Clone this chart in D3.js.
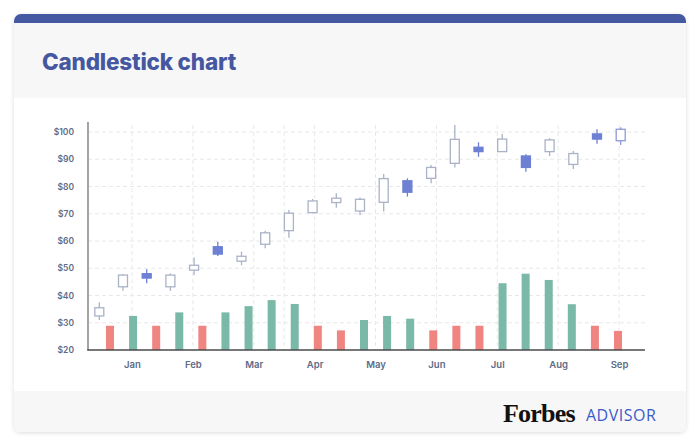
<!DOCTYPE html>
<html>
<head>
<meta charset="utf-8">
<script src="https://cdn.jsdelivr.net/npm/d3@7"></script>
<style>
  html, body { margin: 0; padding: 0; background: #fff; }
  svg { display: block; }
</style>
</head>
<body>
<svg id="chart" width="700" height="447"></svg>
<script>
// candle data, one entry per candle
var opens  = [32.5, 43.2, 48.0, 43.2, 49.3, 57.9, 52.6, 58.8, 63.8, 70.4, 74.1, 71.0,
              74.2, 82.1, 83.0, 88.5, 94.4, 92.8, 91.2, 92.8, 88.1, 99.3, 96.8];
var closes = [35.5, 47.5, 46.4, 47.5, 51.1, 55.2, 54.4, 63.0, 70.2, 74.7, 75.7, 75.3,
              82.9, 77.9, 87.0, 97.3, 92.8, 97.4, 87.0, 97.1, 92.1, 97.4, 101.0];
var highs  = [37.5, 47.8, 49.6, 48.1, 53.9, 59.7, 56.1, 63.8, 71.4, 75.4, 77.5, 76.0,
              84.6, 83.0, 87.9, 102.6, 96.2, 99.3, 91.8, 97.7, 93.0, 101.0, 101.7];
var lows   = [31.0, 41.7, 44.5, 41.7, 47.5, 54.5, 51.1, 57.3, 61.2, 70.4, 72.2, 69.5,
              70.8, 76.3, 81.2, 87.0, 90.9, 92.8, 85.4, 91.2, 86.4, 95.7, 95.2];

// volume bars
var volumes = [8.9, 12.5, 8.9, 13.8, 8.9, 13.8, 16.1, 18.3, 16.9, 8.9, 7.2, 11.0,
               12.5, 11.5, 7.2, 8.9, 8.9, 24.5, 28.0, 25.7, 16.8, 8.9, 7.0];
var volumeDir = ["down", "up", "down", "up", "down", "up", "up", "up", "up", "down", "down", "up",
                 "up", "up", "down", "down", "down", "up", "up", "up", "up", "down", "down"];

var months = ["Jan", "Feb", "Mar", "Apr", "May", "Jun", "Jul", "Aug", "Sep"];
var priceTicks = [20, 30, 40, 50, 60, 70, 80, 90, 100];
var vGrid = [0, 1, 2, 2.5, 3, 4, 5, 6, 7, 8];

var svg = d3.select("#chart");

// card
var defs = svg.append("defs");
var f = defs.append("filter").attr("id", "shadow")
    .attr("x", "-5%").attr("y", "-5%").attr("width", "110%").attr("height", "110%");
f.append("feDropShadow").attr("dx", 0).attr("dy", 1).attr("stdDeviation", 2)
    .attr("flood-color", "#000").attr("flood-opacity", 0.14);
defs.append("clipPath").attr("id", "cardClip")
  .append("rect").attr("x", 14).attr("y", 14).attr("width", 672).attr("height", 418).attr("rx", 7);

svg.append("rect").attr("x", 14).attr("y", 14).attr("width", 672).attr("height", 418)
    .attr("rx", 7).attr("fill", "#f7f7f7").attr("filter", "url(#shadow)");
var card = svg.append("g").attr("clip-path", "url(#cardClip)");
card.append("rect").attr("x", 14).attr("y", 14).attr("width", 672).attr("height", 9).attr("fill", "#4558a2");
card.append("rect").attr("x", 14).attr("y", 98).attr("width", 672).attr("height", 293).attr("fill", "#fff");

svg.append("text").attr("x", 42).attr("y", 70)
    .style("font-family", "Inter, sans-serif").style("font-weight", 800).style("font-size", "22.5px")
    .style("letter-spacing", "-0.2px")
    .attr("fill", "#4557a1").text("Candlestick chart");

// footer logo
svg.append("text").attr("x", 503).attr("y", 421.5)
    .style("font-family", "'Liberation Serif', serif").style("font-weight", 700).style("font-size", "26px")
    .style("letter-spacing", "-0.8px").attr("fill", "#111").text("Forbes");
svg.append("text").attr("x", 586).attr("y", 421)
    .style("font-family", "'Open Sans', sans-serif").style("font-size", "16px")
    .style("letter-spacing", "0.5px").attr("fill", "#3b5bc9").text("ADVISOR");

// scales
var y = d3.scaleLinear().domain([20, 100]).range([350, 132]);
var yVol = d3.scaleLinear().domain([0, 80]).range([350, 132]);
var xCandle = d3.scaleLinear().domain([0, opens.length - 1]).range([99.3, 620.7]);
var xBar = d3.scaleLinear().domain([0, volumes.length - 1]).range([110, 618]);
var xMonth = d3.scaleLinear().domain([0, months.length - 1]).range([132, 619]);

var plotLeft = 88, plotRight = 645, plotTop = 122;

var g = svg.append("g");

// grid
g.selectAll(".hgrid").data(priceTicks.slice(1)).enter().append("line")
    .attr("x1", plotLeft).attr("x2", plotRight)
    .attr("y1", d => y(d)).attr("y2", d => y(d))
    .attr("stroke", "#e8e8e8").attr("stroke-dasharray", "4,3");
g.selectAll(".vgrid").data(vGrid).enter().append("line")
    .attr("x1", d => xMonth(d)).attr("x2", d => xMonth(d))
    .attr("y1", plotTop + 3).attr("y2", 350)
    .attr("stroke", "#e8e8e8").attr("stroke-dasharray", "4,3");

// volume bars
var bw = 8;
g.selectAll(".vol").data(volumes).enter().append("rect")
    .attr("x", (d, i) => xBar(i) - bw / 2)
    .attr("y", d => yVol(d))
    .attr("width", bw)
    .attr("height", d => yVol(0) - yVol(d))
    .attr("fill", (d, i) => volumeDir[i] == "up" ? "#7ab8a7" : "#ef8480");

// candles
var cw = 9;
var candles = opens.map((o, i) => ({o: o, c: closes[i], h: highs[i], l: lows[i], i: i}));
var cg = g.selectAll(".candle").data(candles).enter().append("g");
var stroke = d => d.c < d.o ? "#6d80d3" : (d.i == candles.length - 1 ? "#8e9bd6" : "#a9b2c6");
cg.append("line")
    .attr("x1", d => xCandle(d.i)).attr("x2", d => xCandle(d.i))
    .attr("y1", d => y(d.h)).attr("y2", d => y(d.l))
    .attr("stroke", stroke).attr("stroke-width", 1.3);
cg.append("rect")
    .attr("x", d => xCandle(d.i) - cw / 2)
    .attr("y", d => y(Math.max(d.o, d.c)))
    .attr("width", cw)
    .attr("height", d => Math.abs(y(d.o) - y(d.c)))
    .attr("fill", d => d.c < d.o ? "#6d80d3" : "#fff")
    .attr("stroke", stroke).attr("stroke-width", 1.3);

// axes
var yAxis = d3.axisLeft(y).tickValues(priceTicks).tickSize(0).tickPadding(14).tickFormat(d => "$" + d);
var ya = g.append("g").attr("transform", "translate(" + plotLeft + ",0)").call(yAxis);
ya.select(".domain").remove();
ya.selectAll("text").style("font-family", "Inter, sans-serif").style("font-weight", 600)
    .style("font-size", "8.5px").attr("fill", "#5d6b87");

var xAxis = d3.axisBottom(xMonth).tickValues(d3.range(months.length)).tickSize(0).tickPadding(11)
    .tickFormat((d, i) => months[i]);
var xa = g.append("g").attr("transform", "translate(0,350)").call(xAxis);
xa.select(".domain").remove();
xa.selectAll("text").style("font-family", "Inter, sans-serif").style("font-weight", 600)
    .style("font-size", "9.5px").attr("fill", "#5d6b87");

g.append("line").attr("x1", plotLeft).attr("x2", plotLeft).attr("y1", plotTop).attr("y2", 350)
    .attr("stroke", "#8d8d8d").attr("stroke-width", 1.6);
g.append("line").attr("x1", plotLeft - 0.8).attr("x2", plotRight).attr("y1", 350).attr("y2", 350)
    .attr("stroke", "#4a4a4a").attr("stroke-width", 1.4);
</script>
</body>
</html>
